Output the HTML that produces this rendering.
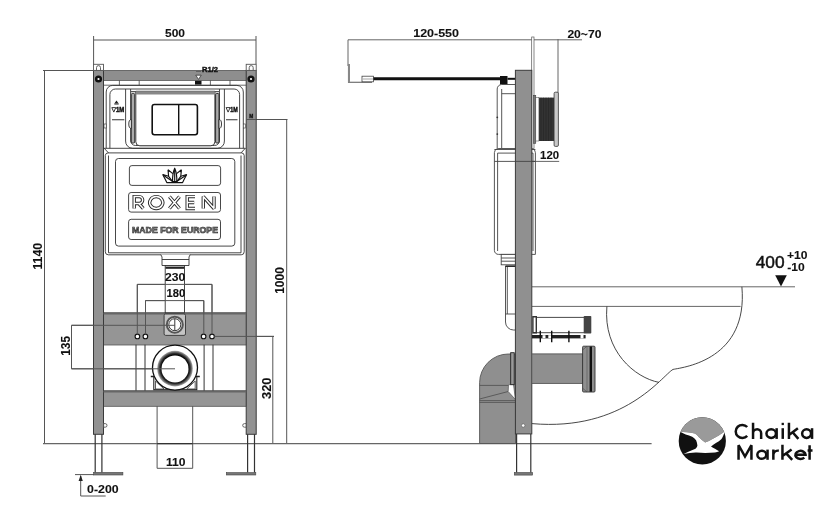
<!DOCTYPE html>
<html><head><meta charset="utf-8">
<style>
html,body{margin:0;padding:0;background:#fff;width:840px;height:524px;overflow:hidden}
svg{display:block;will-change:transform}
text{font-family:"Liberation Sans",sans-serif;font-weight:bold;fill:#111;stroke:#111;stroke-width:0.1}
</style></head><body>
<svg width="840" height="524" viewBox="0 0 840 524">
<rect width="840" height="524" fill="#fff"/>

<!-- ============ LEFT VIEW: dimensions ============ -->
<g stroke="#555" stroke-width="1" fill="none">
  <path d="M93.6 40H256M93.6 36V64M256 36V64"/>
  <path d="M43 70.5H94M44.5 70.5V443.7"/>
  <path d="M246.2 119.5H287.5M286.7 119.5V443.7"/>
  <path d="M71.5 325.3H175M71.5 325.3V368.8M71.5 368.8H175"/>
  <path d="M212 336.4H274M272.8 336.4V443.7"/>
  <path d="M137.3 284.4H212M137.3 284.4V325M212 284.4V336"/>
  <path d="M145.5 300.6H203.8M145.5 300.6V325M203.8 300.6V336"/>
  <path d="M157.1 406V468.3H192.7V406"/>
  <path d="M75 474.6H94M80.7 476V496H105.7"/>
</g>
<path d="M43 443.7H651.6" stroke="#666" stroke-width="1.3"/>
<path d="M157.1 443.7H192.7" stroke="#333" stroke-width="1.3"/>
<path d="M80.7 474.8L78.6 481L82.8 481Z" fill="#222"/>

<text x="175" y="36.5" font-size="11.3" text-anchor="middle" textLength="20" lengthAdjust="spacingAndGlyphs">500</text>
<text transform="translate(41.5 256.2) rotate(-90)" font-size="12" text-anchor="middle" textLength="26.7" lengthAdjust="spacingAndGlyphs">1140</text>
<text transform="translate(69.5 345.9) rotate(-90)" font-size="12.5" text-anchor="middle" textLength="19.8" lengthAdjust="spacingAndGlyphs">135</text>
<text transform="translate(284 280.5) rotate(-90)" font-size="12.3" text-anchor="middle" textLength="26.6" lengthAdjust="spacingAndGlyphs">1000</text>
<text transform="translate(271.4 388.2) rotate(-90)" font-size="13" text-anchor="middle" textLength="21.4" lengthAdjust="spacingAndGlyphs">320</text>
<text x="175.8" y="465.5" font-size="11" text-anchor="middle" textLength="19.5" lengthAdjust="spacingAndGlyphs">110</text>
<text x="87.1" y="493.1" font-size="11.3" textLength="31.5" lengthAdjust="spacingAndGlyphs">0-200</text>

<!-- ============ LEFT VIEW: frame ============ -->
<g stroke="#555" stroke-width="0.8">
  <!-- top bar -->
  <rect x="103.5" y="70.4" width="142.9" height="10" fill="#8e8e8e"/>
  <!-- crossbars -->
  <rect x="103.5" y="312.7" width="142.9" height="32.3" fill="#959595"/>
  <rect x="103.5" y="390.7" width="142.9" height="15.6" fill="#959595"/>
</g>
<g stroke="#3a3a3a" stroke-width="1">
  <!-- posts -->
  <rect x="93.5" y="70.4" width="10" height="363.9" fill="#929292"/>
  <rect x="246.2" y="70.4" width="10" height="363.9" fill="#929292"/>
</g>
<path d="M103.5 313.6H246.2" stroke="#666" stroke-width="1.6"/>
<path d="M103.5 391.6H246.2" stroke="#666" stroke-width="1.6"/>
<!-- caps -->
<g stroke="#555" stroke-width="0.9" fill="#fff">
  <rect x="93.5" y="64.3" width="10" height="6.1"/>
  <rect x="246.2" y="64.3" width="10" height="6.1"/>
  <path d="M96.5 70.4V67.6A2 2 0 0 1 100.5 67.6V70.4" fill="none"/>
  <path d="M249.2 70.4V67.6A2 2 0 0 1 253.2 67.6V70.4" fill="none"/>
</g>
<g>
  <circle cx="98.5" cy="79" r="3.6" fill="#111"/><circle cx="98.5" cy="79" r="1.1" fill="#fff"/>
  <circle cx="251" cy="79" r="3.6" fill="#111"/><circle cx="251" cy="79" r="1.1" fill="#fff"/>
</g>
<!-- legs -->
<g stroke="#333" stroke-width="1.2" fill="none">
  <path d="M95.2 434.3V472.6M101.9 434.3V472.6"/>
  <path d="M247.6 434.3V472.6M254.5 434.3V472.6"/>
</g>
<rect x="93.6" y="472.4" width="29.3" height="2.6" fill="#777" stroke="#444" stroke-width="0.6"/>
<rect x="226.3" y="472.6" width="29.5" height="2.4" fill="#777" stroke="#444" stroke-width="0.6"/>
<g fill="#fff" stroke="#444" stroke-width="0.8">
  <path d="M103.6 423.6h1.6a1.7 1.7 0 0 1 0 3.6h-1.6z"/>
  <path d="M246.1 423.6h-1.6a1.7 1.7 0 0 0 0 3.6h1.6z"/>
</g>

<!-- R1/2 strip under top bar -->
<g stroke="#444" stroke-width="0.8" fill="none">
  <path d="M103.5 85.2H246.2"/>
  <path d="M119.4 80.4V85.2M139.2 80.4V85.2M210.4 80.4V85.2M230 80.4V85.2"/>
</g>
<rect x="195" y="80.8" width="6.5" height="3.8" fill="#111"/>
<path d="M195.8 75.2H201.2L198.5 79.4Z" fill="#fff" stroke="#222" stroke-width="0.7"/>
<text x="202" y="71.6" font-size="7" textLength="16" lengthAdjust="spacingAndGlyphs" style="stroke-width:0.35">R1/2</text>
<path d="M196 71.5H201" stroke="#444" stroke-width="0.6"/>

<!-- ============ cistern upper ============ -->
<g stroke="#333" stroke-width="0.9" fill="none">
  <path d="M106.2 148.3V92A6.5 6.5 0 0 1 112.7 85.4H236.8A6.5 6.5 0 0 1 243.3 92V148.3"/>
  <path d="M109.9 148.3V94.5A5.5 5.5 0 0 1 115.4 89H234.1A5.5 5.5 0 0 1 239.6 94.5V148.3"/>
  <path d="M104 148.3H245.5"/>
  <!-- plate outer -->
  <path d="M125.6 89V141A7 7 0 0 0 132.6 148.3H217.4A7 7 0 0 0 224.4 141V89"/>
  <path d="M130.6 89V140A5 5 0 0 0 135.6 145.5H214.6A5 5 0 0 0 219.5 140V89"/>
</g>
<!-- plate -->
<g stroke="#222" stroke-width="0.9">
  <rect x="131.3" y="93.5" width="3.4" height="49.5" rx="1" fill="#aaa"/>
  <rect x="215.6" y="93.5" width="3.4" height="49.5" rx="1" fill="#aaa"/>
  <path d="M131.3 119.5A2.5 4.5 0 0 0 131.3 128.5Z" fill="#fff"/>
  <path d="M219 119.5A2.5 4.5 0 0 1 219 128.5Z" fill="#fff"/>
</g>
<path d="M135.8 91.3H214.9V141.8A4 4 0 0 1 210.9 145.8H139.8A4 4 0 0 1 135.8 141.8Z" fill="#fff" stroke="#222" stroke-width="0.9"/>
<rect x="135.8" y="91.3" width="79.1" height="3.2" fill="#888"/>
<path d="M130.5 91.6H136M214.7 91.6H220" stroke="#555" stroke-width="1.4"/>
<rect x="152.2" y="104.5" width="45.2" height="30.2" rx="2.2" fill="#fff" stroke="#111" stroke-width="1.6"/>
<path d="M178.7 104.5V134.7" stroke="#111" stroke-width="1.4"/>
<!-- 1M marks -->
<g fill="#222">
  <path d="M116.5 100.6L114.3 103.4H118.7Z"/>
  <rect x="114.3" y="103.6" width="4.4" height="0.9"/>
</g>
<path d="M111.8 107.6H115.8L113.8 112.1Z" fill="none" stroke="#222" stroke-width="0.9"/><text x="116" y="112.2" font-size="6.5" textLength="8.3" lengthAdjust="spacingAndGlyphs" style="stroke-width:0.45">1M</text>
<path d="M226.1 107.6H230.1L228.1 112.1Z" fill="none" stroke="#222" stroke-width="0.9"/><text x="230.2" y="112.2" font-size="6.5" textLength="7.5" lengthAdjust="spacingAndGlyphs" style="stroke-width:0.45">1M</text>
<path d="M112 119.8H124.3M226 119.8H237.5" stroke="#333" stroke-width="1.1"/>
<path d="M104 105V120M104 122H106" stroke="none"/>
<g fill="#fff" stroke="#333" stroke-width="0.6">
  <rect x="104" y="124" width="2.2" height="4"/>
  <rect x="243.3" y="124" width="2.2" height="4"/>
</g>

<!-- ============ cistern lower ============ -->
<g stroke="#333" stroke-width="0.9" fill="none">
  <path d="M108 152.9A2.8 2.8 0 0 0 105.3 155.5V251.8A3 3 0 0 0 108.3 254.8H241.2A3 3 0 0 0 244.2 251.8V155.5A2.8 2.8 0 0 0 241.5 152.9Z"/>
  <path d="M108.5 155.5V252.8H241V155.5"/>
  <path d="M104.2 148.3L108.5 152.9M245.3 148.3L241 152.9"/>
</g>
<rect x="115.5" y="158.5" width="119.3" height="87.6" rx="3" fill="none" stroke="#333" stroke-width="0.9"/>
<rect x="129.4" y="165.6" width="91.2" height="19.8" rx="2.5" fill="none" stroke="#333" stroke-width="0.9"/>
<rect x="128.6" y="192.5" width="91.9" height="19.6" rx="2.5" fill="none" stroke="#333" stroke-width="0.9"/>
<rect x="128.6" y="219.3" width="91.9" height="20.2" rx="2.5" fill="none" stroke="#333" stroke-width="0.9"/>
<!-- lotus logo -->
<g fill="none" stroke="#111" stroke-width="1.15" stroke-linejoin="round">
  <path d="M174.7 168.2C173.2 171.5 172.4 176 172.6 181.5H176.8C177 176 176.2 171.5 174.7 168.2Z"/>
  <path d="M174.7 171V181.5"/>
  <path d="M168 169.8L168.6 176.3L172.4 181.3M168 169.8L172.8 173.6"/>
  <path d="M181.4 169.8L180.8 176.3L177 181.3M181.4 169.8L176.6 173.6"/>
  <path d="M162.7 174.5L165.2 179.3L166.8 182.6H182.6L184.2 179.3L186.7 174.5"/>
  <path d="M162.7 174.5L168.6 176.3M186.7 174.5L180.8 176.3"/>
  <path d="M164.5 176L172.4 181.3M184.9 176L177 181.3"/>
</g>
<g fill="#111">
  <path d="M174.7 168.2L173.6 171.5H175.8Z"/>
  <path d="M168 169.8L168.3 172.5L170 171.4Z"/>
  <path d="M181.4 169.8L181.1 172.5L179.4 171.4Z"/>
  <path d="M162.7 174.5L164 176.4L165.5 175.3Z"/>
  <path d="M186.7 174.5L185.4 176.4L183.9 175.3Z"/>
</g>
<g fill="none" stroke-linecap="butt" stroke-linejoin="miter" stroke-miterlimit="1.5">
<path id="rx" d="M134.2 208.5V196.6H139.2A3.45 3.45 0 0 1 139.2 203.5H134.2M138.8 203.5L143.3 208.5M156.25 196.6A6.55 5.95 0 1 1 156.24 196.6ZM169.4 196.6L179.5 208.5M179.5 196.6L169.4 208.5M195 196.6H187.2V208.5H195M187.2 202.55H194.2M203.3 208.5V196.6L214 208.5V196.6" stroke="#2a2a2a" stroke-width="3.4"/>
<path d="M134.2 208.5V196.6H139.2A3.45 3.45 0 0 1 139.2 203.5H134.2M138.8 203.5L143.3 208.5M156.25 196.6A6.55 5.95 0 1 1 156.24 196.6ZM169.4 196.6L179.5 208.5M179.5 196.6L169.4 208.5M195 196.6H187.2V208.5H195M187.2 202.55H194.2M203.3 208.5V196.6L214 208.5V196.6" stroke="#fff" stroke-width="1.5"/>
</g>
<text x="175" y="233" font-size="8.8" text-anchor="middle" textLength="86" lengthAdjust="spacingAndGlyphs" style="fill:#8a8a8a;stroke:#222;stroke-width:0.55">MADE FOR EUROPE</text>

<!-- outlet under cistern -->
<g stroke="#333" stroke-width="0.9" fill="#fff">
  <path d="M160.8 254.6L162 257V265.5H189V257L190.2 254.6"/>
  <path d="M162 259.5H189" fill="none"/>
  <rect x="165.2" y="265.5" width="19.3" height="47.2"/>
</g>
<rect x="165.5" y="266.6" width="18.7" height="2.2" fill="#222"/>

<!-- holes & valve on crossbar -->
<g fill="#fff" stroke="#111" stroke-width="1.1">
  <circle cx="137.4" cy="336.4" r="2.3"/><circle cx="145.4" cy="336.4" r="2.3"/>
  <circle cx="203.6" cy="336.4" r="2.3"/><circle cx="212" cy="336.4" r="2.3"/>
</g>
<rect x="164.1" y="314" width="21.4" height="21.4" rx="1.5" fill="#c4c4c4" stroke="#333" stroke-width="0.9"/>
<circle cx="174.8" cy="324.7" r="8" fill="#fff" stroke="#555" stroke-width="2"/>
<circle cx="174.8" cy="324.7" r="6" fill="#fff" stroke="#222" stroke-width="0.9"/>
<path d="M174.8 318.8V330.6" stroke="#222" stroke-width="0.9"/>

<!-- support rods between bars -->
<g stroke="#333" stroke-width="1">
  <path d="M136 344.7V390.7M145 344.7V390.7M204.1 344.7V390.7M213 344.7V390.7"/>
</g>
<!-- drain -->
<rect x="153.8" y="376.4" width="43" height="13.3" fill="#fff" stroke="#222" stroke-width="1.1"/>
<path d="M150.8 376.6H153.8M196.8 376.6H199.8" stroke="#222" stroke-width="1.5"/>
<path d="M155.5 389H164L155.5 381Z" fill="#fff" stroke="#333" stroke-width="0.8"/>
<path d="M195.2 389H186.7L195.2 381Z" fill="#fff" stroke="#333" stroke-width="0.8"/>
<defs>
  <radialGradient id="ring" cx="0.5" cy="0.5" r="0.5">
    <stop offset="0.76" stop-color="#000"/>
    <stop offset="0.86" stop-color="#333"/>
    <stop offset="1" stop-color="#aaa"/>
  </radialGradient>
</defs>
<circle cx="175" cy="367.6" r="22.5" fill="#fff" stroke="#111" stroke-width="1.3"/>
<circle cx="175" cy="368.6" r="17.8" fill="url(#ring)"/>
<circle cx="175" cy="368.9" r="13.5" fill="#fff"/>
<path d="M71.5 368.8H175" stroke="#555" stroke-width="1"/>

<!-- ============ LEFT VIEW overlay dims ============ -->
<g stroke="#555" stroke-width="1" fill="none">
  <path d="M137.3 284.4H212M137.3 284.4V334M212 284.4V334"/>
  <path d="M145.5 300.6H203.8M145.5 300.6V334M203.8 300.6V334"/>
  <path d="M71.5 325.3H175M214.3 336.4H274M246.2 119.5H256"/>
</g>
<text x="175.1" y="280.8" font-size="11" text-anchor="middle" textLength="20.2" lengthAdjust="spacingAndGlyphs">230</text>
<text x="175.9" y="296.8" font-size="11" text-anchor="middle" textLength="18.6" lengthAdjust="spacingAndGlyphs">180</text>

<text x="249.2" y="117.5" font-size="5" textLength="4" lengthAdjust="spacingAndGlyphs" style="stroke-width:0.3">M</text>
<!-- ============ RIGHT VIEW ============ -->
<g stroke="#666" stroke-width="1" fill="none">
  <path d="M348 39.8H582M348 39.8V66M558 39V94M532.7 37V70"/>
  <path d="M535 161.4H559.2"/>
  <path d="M532 286.8H795M532 306.4H740.6"/>
</g>
<text x="436.1" y="36.8" font-size="11" text-anchor="middle" textLength="45.8" lengthAdjust="spacingAndGlyphs">120-550</text>
<text x="584.4" y="37.6" font-size="11" text-anchor="middle" textLength="34" lengthAdjust="spacingAndGlyphs">20~70</text>
<text x="549.6" y="158.5" font-size="11" text-anchor="middle" textLength="19" lengthAdjust="spacingAndGlyphs">120</text>
<text x="770.15" y="267.8" font-size="16.5" text-anchor="middle" textLength="28.9" lengthAdjust="spacingAndGlyphs" style="font-weight:normal;stroke-width:0.45">400</text>
<text x="797.2" y="258.5" font-size="11.5" text-anchor="middle" textLength="20.5" lengthAdjust="spacingAndGlyphs">+10</text>
<text x="795.9" y="271" font-size="11.5" text-anchor="middle" textLength="17.4" lengthAdjust="spacingAndGlyphs">-10</text>
<path d="M775.2 275.2H786.8L781 286.6Z" fill="#111"/>

<!-- button bracket + cable -->
<path d="M348.5 64V82.3H372" fill="none" stroke="#555" stroke-width="1.1"/>
<rect x="348" y="64" width="2" height="18" fill="#888"/>
<rect x="362" y="76.2" width="11.5" height="5.6" fill="#fff" stroke="#444" stroke-width="0.8"/>
<path d="M363 79H373" stroke="#666" stroke-width="0.6"/>
<path d="M373.5 78.8H500" stroke="#111" stroke-width="3"/>
<rect x="500" y="76" width="7.5" height="8.5" fill="#111"/>
<path d="M507.5 78.8H515.5" stroke="#111" stroke-width="2"/>

<!-- cistern side -->
<g stroke="#444" stroke-width="0.9" fill="#fff">
  <path d="M515.5 148.6H497.2V89A4.5 4.5 0 0 1 501.7 84.5H515.5"/>
  <path d="M501.7 148.6V89M501.7 93.7H515.5" fill="none"/>
  <path d="M535.4 254.4H498.6A4 4 0 0 1 494.4 250.4V152.6A4 4 0 0 1 498.4 148.6H531.4A4 4 0 0 1 535.4 152.6Z"/>
  <path d="M497.6 251V153.1M533 251V153.1M494.4 149.5H535.4M497.6 153.1H533M494.4 161.4H535.4" fill="none"/>
  <rect x="501.2" y="254.4" width="14.6" height="10.4"/>
  <path d="M501.2 258H515.8M501.2 261.2H515.8" fill="none"/>
  <path d="M515.8 266H505.5V322A8 8 0 0 0 513.5 330H515.8" fill="#fff"/>
  <path d="M507.3 266V314M505.5 314H515.8" fill="none"/>
</g>
<path d="M505.5 266.3H515.8" stroke="#222" stroke-width="1.3"/>
<g fill="#333">
  <circle cx="497.3" cy="117.3" r="0.9"/><circle cx="497.3" cy="134.1" r="0.9"/>
</g>

<!-- wall strip right of post -->
<rect x="531.7" y="37" width="2.3" height="111.6" fill="#fff" stroke="#555" stroke-width="0.7"/>

<!-- flush mechanism -->
<rect x="533.5" y="95.3" width="2.3" height="48.1" fill="#777" stroke="#333" stroke-width="0.5"/>
<rect x="538.9" y="97.6" width="15.2" height="43.4" fill="#333"/>
<g stroke="#222" stroke-width="0.5">
  <path d="M541 97.6V141M543.5 97.6V141M546 97.6V141M548.5 97.6V141M551 97.6V141"/>
</g>
<rect x="535.8" y="97.6" width="3.1" height="43.4" fill="#fff" stroke="#444" stroke-width="0.5"/>
<rect x="554.1" y="92.2" width="4.3" height="54.2" rx="1.2" fill="#c8c8c8" stroke="#333" stroke-width="0.8"/>

<!-- elbow -->
<path d="M515.5 443.5H479.6V382.7A28.8 28.8 0 0 1 508.4 354H515.5Z" fill="#8f8f8f" stroke="#555" stroke-width="0.9"/>
<g stroke="#555" stroke-width="0.9" fill="none">
  <path d="M479.6 385.4H508.5M479.6 399L508.2 391.5M479.6 400.6H515.5M479.6 402.4H515.5"/>
</g>
<path d="M508.5 384.8L513.5 384.2L515.4 399.5L508.2 391.5Z" fill="#fff" stroke="#555" stroke-width="0.7"/>
<rect x="510.7" y="352.7" width="3.5" height="32" fill="#999" stroke="#222" stroke-width="0.9"/>

<!-- post -->
<rect x="515.4" y="70.3" width="16.4" height="363.6" fill="#909090" stroke="#3a3a3a" stroke-width="1"/>
<path d="M515.4 161.4H535" stroke="#444" stroke-width="0.9"/>
<circle cx="523.2" cy="425.5" r="1.7" fill="#fff" stroke="#444" stroke-width="0.5"/>
<g stroke="#333" stroke-width="1.2" fill="none">
  <path d="M516.6 434V472.6M530.8 434V472.6"/>
</g>
<rect x="514.3" y="472.5" width="18.3" height="2.6" fill="#777" stroke="#444" stroke-width="0.6"/>

<!-- drain pipe right -->
<rect x="531.8" y="353.9" width="50.8" height="29.5" fill="#8f8f8f" stroke="#555" stroke-width="0.9"/>
<rect x="582.6" y="346.2" width="12.4" height="45.8" rx="1" fill="#8f8f8f" stroke="#333" stroke-width="0.9"/>
<path d="M582.6 350L587 346.2M582.6 388.2L587 392" stroke="#444" stroke-width="0.6"/>
<rect x="589.6" y="346.5" width="2.4" height="45.2" fill="#111"/>
<path d="M587 346.5V391.7" stroke="#555" stroke-width="0.6"/>

<!-- bracket with studs -->
<rect x="532.2" y="316" width="4.8" height="17.6" fill="#333"/>
<rect x="533.6" y="317.5" width="2" height="14.5" fill="#fff"/>
<path d="M537 317.4H584.2M537 332.7H584.2" stroke="#333" stroke-width="0.9"/>
<rect x="583.7" y="316" width="7.6" height="17.6" rx="0.8" fill="#444"/>
<rect x="532" y="335" width="53.6" height="3.4" fill="#222"/>
<g fill="#fff"><rect x="542.5" y="335.2" width="3" height="3"/><rect x="548.3" y="335.2" width="3" height="3"/><rect x="580.5" y="334.8" width="3" height="3.6"/></g>
<g stroke="#111" stroke-width="1.4"><path d="M540.3 330.8V342.2M551.7 330.8V342.2M568.9 330.8V342.2"/></g>

<!-- bowl -->
<g stroke="#333" stroke-width="0.9" fill="none">
  <path d="M741.9 286.8C748.2 359 685.3 367.2 673 369.4"/>
  <path d="M606.9 306.4C603 351.2 634.9 377.7 659 382.4"/>
  <path d="M673 369.4C662.2 375.7 624 431.7 531.9 423.6"/>
</g>

<!-- logo -->
<defs><clipPath id="lc"><circle cx="702.3" cy="440.9" r="23.6"/></clipPath></defs>
<g clip-path="url(#lc)">
  <rect x="670" y="410" width="70" height="60" fill="#111"/>
  <path d="M670 410H740V431.2H724.8C723.3 432.4 721.8 433.4 720.2 434.4C718 436 715 437.5 712.4 438.9C710 440.2 707.8 441.4 705.2 442.5C703 441 700.8 439 698.7 437C697.6 435.6 696.5 434.3 694.8 433.4C690 432.7 684 432.1 679.6 431.6H670Z" fill="#9a9a9a"/>
</g>
<path d="M679.6 431.6C684 432.1 690 432.7 694.8 433.4C696.5 434.3 697.6 435.6 698.7 437C700.8 439 703 441 705.2 442.5C707.8 441.4 710 440.2 712.4 438.9C715 437.5 718 436 720.2 434.4C721.8 433.4 723.3 432.4 724.8 431.2C724 434 723 436.8 721.5 438.9C719.8 440.5 718 441.7 716.3 442.8C714.5 444 712.8 445.2 711 446.4C712.3 447.2 713.7 448 715 448.7C716.3 449.6 717.6 450.4 719.2 451.3C717.8 451.9 716.4 452.3 715 452.6C711.8 452.9 708.4 452.9 705.2 452.9C702 452.8 698.7 452.5 695.5 452.6C691.6 452.9 687.7 453.4 683.6 454.1C687.5 452.2 691.5 450.4 695.5 448.7C696.4 447.8 697.3 446.5 697.4 445.4C697.2 443.7 696.8 441.8 696.1 440.2C695 438.8 693.6 437.6 692.2 436.7C690.2 435.7 688 435 685.7 434.4C683.6 433.6 681.5 432.7 679.6 431.6Z" fill="#fff"/>
<g fill="none" stroke="#111" stroke-width="2.5" stroke-linecap="butt" stroke-linejoin="miter" stroke-miterlimit="3">
<path d="M747.2 427A6.6 6.5 0 1 0 747.2 435.8"/>
<path d="M753.05 422.8V438.9M753.05 433.2A4.05 4.05 0 0 1 761.15 433.2V438.9"/>
<ellipse cx="771.2" cy="433.6" rx="4.75" ry="4.3"/><path d="M776.65 428.2V438.9"/>
<path d="M782.75 428.2V438.9"/>
<path d="M788.95 422.8V438.9M797.9 428.2L789.3 434.8M792.6 432.2L798.4 438.9"/>
<ellipse cx="806.6" cy="433.6" rx="4.45" ry="4.3"/><path d="M812.05 428.2V438.9"/>
<path d="M738.55 459.8V445.2L745 456.5L751.45 445.2V459.8"/>
<ellipse cx="761.8" cy="454.7" rx="4.45" ry="4.05"/><path d="M767.55 449.6V459.8"/>
<path d="M773.35 449.6V459.8M773.35 454.6A4.8 4.8 0 0 1 778.8 450.7"/>
<path d="M782.45 444.8V459.8M791.6 449.6L782.8 455.8M786.2 453.3L792.2 459.8"/>
<path d="M795.4 454.7H805.55A5.07 4.05 0 1 0 804.3 457.6"/>
<path d="M809.6 445.2V459.8M807.6 450.4H812.5"/>
</g>
<rect x="781.6" y="422.8" width="2.3" height="2.3" fill="#111"/>

</svg>
</body></html>
